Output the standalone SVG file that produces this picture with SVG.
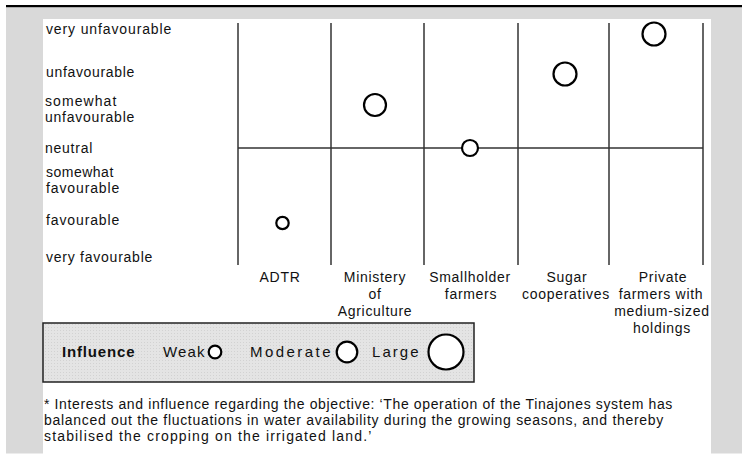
<svg xmlns="http://www.w3.org/2000/svg" width="742" height="454" viewBox="0 0 742 454">
  <style>
    text { font-family: "Liberation Sans", Arial, sans-serif; font-size: 14px; fill: #111; letter-spacing: 0.7px; }
    .mid { text-anchor: middle; }
    .grid { stroke: #333; stroke-width: 1.5; fill: none; }
    .bubble { fill: #fff; stroke: #000; stroke-width: 2.2; }
    .key { font-size: 15px; letter-spacing: 0.5px; }
    .bold { font-weight: bold; }
  </style>
  <defs>
    <pattern id="dots" width="3" height="3" patternUnits="userSpaceOnUse">
      <rect width="3" height="3" fill="#e4e4e4"/>
      <rect width="1" height="1" fill="#d2d2d2"/>
    </pattern>
  </defs>

  <!-- page frame -->
  <rect x="0" y="0" width="742" height="454" fill="#fff"/>
  <rect x="6" y="5" width="736" height="2.5" fill="#000"/>
  <rect x="6" y="7.5" width="736" height="446" fill="#d9d9d9"/>
  <rect x="43" y="19" width="668" height="435" fill="#fff"/>

  <!-- rating scale -->
  <g id="scale">
    <text x="46" y="34" textLength="126" lengthAdjust="spacing">very unfavourable</text>
    <text x="46" y="77" textLength="89" lengthAdjust="spacing">unfavourable</text>
    <text x="45" y="106" textLength="72" lengthAdjust="spacing">somewhat</text>
    <text x="45" y="122" textLength="90" lengthAdjust="spacing">unfavourable</text>
    <text x="45" y="153" textLength="48" lengthAdjust="spacing">neutral</text>
    <text x="46" y="177" textLength="68" lengthAdjust="spacing">somewhat</text>
    <text x="46" y="193" textLength="74" lengthAdjust="spacing">favourable</text>
    <text x="46" y="225" textLength="74" lengthAdjust="spacing">favourable</text>
    <text x="46" y="262" textLength="107" lengthAdjust="spacing">very favourable</text>
  </g>

  <!-- grid -->
  <g id="grid" class="grid">
    <line x1="238" y1="23" x2="238" y2="265"/>
    <line x1="331" y1="23" x2="331" y2="265"/>
    <line x1="424" y1="23" x2="424" y2="265"/>
    <line x1="518" y1="23" x2="518" y2="265"/>
    <line x1="609" y1="23" x2="609" y2="265"/>
    <line x1="703" y1="23" x2="703" y2="265"/>
    <line x1="238" y1="148" x2="703" y2="148"/>
  </g>

  <!-- stakeholders -->
  <g id="adtr">
    <circle class="bubble" cx="282.5" cy="223" r="6.2"/>
    <text class="mid" x="280" y="282">ADTR</text>
  </g>
  <g id="ministry">
    <circle class="bubble" cx="375" cy="105" r="11"/>
    <text class="mid" x="375" y="282">Ministery</text>
    <text class="mid" x="375" y="299">of</text>
    <text class="mid" x="375" y="316">Agriculture</text>
  </g>
  <g id="smallholder">
    <circle class="bubble" cx="470" cy="148" r="8"/>
    <text class="mid" x="470" y="282">Smallholder</text>
    <text class="mid" x="471" y="299">farmers</text>
  </g>
  <g id="sugar">
    <circle class="bubble" cx="565" cy="74" r="11.5"/>
    <text class="mid" x="567" y="282">Sugar</text>
    <text class="mid" x="566" y="299">cooperatives</text>
  </g>
  <g id="private">
    <circle class="bubble" cx="654" cy="34" r="11.5"/>
    <text class="mid" x="663" y="282">Private</text>
    <text class="mid" x="661" y="299">farmers with</text>
    <text class="mid" x="662" y="316">medium-sized</text>
    <text class="mid" x="662" y="333">holdings</text>
  </g>

  <!-- legend -->
  <g id="legend">
    <rect x="43" y="323" width="431" height="59" fill="url(#dots)" stroke="#222" stroke-width="1.5"/>
    <text class="key bold" x="62" y="357" textLength="73" lengthAdjust="spacing">Influence</text>
    <text class="key" x="163" y="357" textLength="42" lengthAdjust="spacing">Weak</text>
    <circle class="bubble" cx="215" cy="352" r="6.3" stroke-width="2.6"/>
    <text class="key" x="250" y="357" textLength="81" lengthAdjust="spacing">Moderate</text>
    <circle class="bubble" cx="347" cy="352" r="10.3"/>
    <text class="key" x="372" y="357" textLength="47" lengthAdjust="spacing">Large</text>
    <circle class="bubble" cx="446" cy="352" r="17.5"/>
  </g>

  <!-- footnote -->
  <g id="footnote">
    <text x="44" y="409" textLength="629" lengthAdjust="spacing">* Interests and influence regarding the objective: ‘The operation of the Tinajones system has</text>
    <text x="44" y="425" textLength="620" lengthAdjust="spacing">balanced out the fluctuations in water availability during the growing seasons, and thereby</text>
    <text x="44" y="441" textLength="328" lengthAdjust="spacing">stabilised the cropping on the irrigated land.’</text>
  </g>
</svg>
